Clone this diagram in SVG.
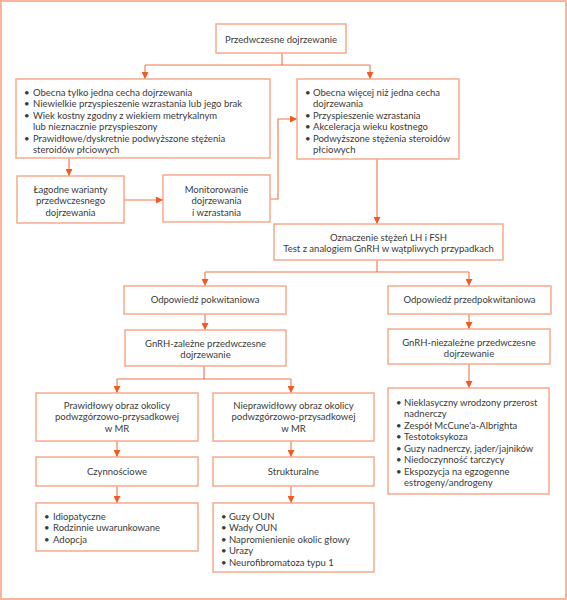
<svg xmlns="http://www.w3.org/2000/svg" width="567" height="600" viewBox="0 0 567 600">
<defs>
<style>
.frame{fill:none;stroke:#f9b49a;stroke-width:2}
.box{fill:#fff;stroke:#f8a98b;stroke-width:1.5}
.c{fill:none;stroke:#f47347;stroke-width:1.1}
.t{font-family:Lato,"Open Sans","Liberation Sans",sans-serif;font-size:9.5px;fill:#3a3a3a}
.m{text-anchor:middle}
</style>
<marker id="ah" viewBox="0 0 10 10" refX="10" refY="5" markerWidth="7" markerHeight="7" markerUnits="userSpaceOnUse" orient="auto">
<path d="M0,0 L10,5 L0,10 z" fill="#f25a24"/>
</marker>
</defs>
<rect x="0" y="0" width="567" height="600" fill="#fff"/>
<rect class="frame" x="1" y="1" width="565" height="598"/>

<g id="connectors">
<path class="c" d="M282,53 V65 M145,65 H370"/>
<path class="c" d="M145,65 V79" marker-end="url(#ah)"/>
<path class="c" d="M370,65 V79" marker-end="url(#ah)"/>
<path class="c" d="M69,158 V176" marker-end="url(#ah)"/>
<path class="c" d="M124,200 H163" marker-end="url(#ah)"/>
<path class="c" d="M270,199 H278 V119 H297" marker-end="url(#ah)"/>
<path class="c" d="M377,159 V224" marker-end="url(#ah)"/>
<path class="c" d="M377,260 V272 M205,272 H469"/>
<path class="c" d="M205,272 V286" marker-end="url(#ah)"/>
<path class="c" d="M469,272 V286" marker-end="url(#ah)"/>
<path class="c" d="M205,314 V330" marker-end="url(#ah)"/>
<path class="c" d="M469,314 V329" marker-end="url(#ah)"/>
<path class="c" d="M204,366 V379 M117,379 H291"/>
<path class="c" d="M117,379 V393" marker-end="url(#ah)"/>
<path class="c" d="M291,379 V393" marker-end="url(#ah)"/>
<path class="c" d="M469,364 V388" marker-end="url(#ah)"/>
<path class="c" d="M117,441 V457" marker-end="url(#ah)"/>
<path class="c" d="M291,441 V457" marker-end="url(#ah)"/>
<path class="c" d="M117,486 V503" marker-end="url(#ah)"/>
<path class="c" d="M291,486 V503" marker-end="url(#ah)"/>
</g>

<g id="n_root">
<rect class="box" x="216" y="24" width="130" height="29"/>
<text class="t m" x="281" y="42.5">Przedwczesne dojrzewanie</text>
</g>

<g id="n_one">
<rect class="box" x="16" y="79" width="254" height="79"/>
<text class="t"><tspan x="24" y="95.5">•</tspan><tspan x="33" y="95.5">Obecna tylko jedna cecha dojrzewania</tspan><tspan x="24" y="107">•</tspan><tspan x="33" y="107">Niewielkie przyspieszenie wzrastania lub jego brak</tspan><tspan x="24" y="118.5">•</tspan><tspan x="33" y="118.5">Wiek kostny zgodny z wiekiem metrykalnym</tspan><tspan x="33" y="130">lub nieznacznie przyspieszony</tspan><tspan x="24" y="141.5">•</tspan><tspan x="33" y="141.5">Prawidłowe/dyskretnie podwyższone stężenia</tspan><tspan x="33" y="153">steroidów płciowych</tspan></text>
</g>

<g id="n_more">
<rect class="box" x="297" y="79" width="162" height="80"/>
<text class="t"><tspan x="305" y="95.5">•</tspan><tspan x="313" y="95.5">Obecna więcej niż jedna cecha</tspan><tspan x="313" y="107">dojrzewania</tspan><tspan x="305" y="118.5">•</tspan><tspan x="313" y="118.5">Przyspieszenie wzrastania</tspan><tspan x="305" y="130">•</tspan><tspan x="313" y="130">Akceleracja wieku kostnego</tspan><tspan x="305" y="141.5">•</tspan><tspan x="313" y="141.5">Podwyższone stężenia steroidów</tspan><tspan x="313" y="153">płciowych</tspan></text>
</g>

<g id="n_mild">
<rect class="box" x="17" y="176" width="107" height="47"/>
<text class="t m"><tspan x="70.5" y="192.5">Łagodne warianty</tspan><tspan x="70.5" y="204">przedwczesnego</tspan><tspan x="70.5" y="215.5">dojrzewania</tspan></text>
</g>

<g id="n_monitor">
<rect class="box" x="163" y="175" width="107" height="47"/>
<text class="t m"><tspan x="216.5" y="192.5">Monitorowanie</tspan><tspan x="216.5" y="204">dojrzewania</tspan><tspan x="216.5" y="215.5">i wzrastania</tspan></text>
</g>

<g id="n_lhfsh">
<rect class="box" x="274" y="224" width="229" height="36"/>
<text class="t m"><tspan x="388.5" y="240.5">Oznaczenie stężeń LH i FSH</tspan><tspan x="388.5" y="252">Test z analogiem GnRH w wątpliwych przypadkach</tspan></text>
</g>

<g id="n_post">
<rect class="box" x="124" y="286" width="162" height="28"/>
<text class="t m" x="205" y="302.5">Odpowiedź pokwitaniowa</text>
</g>

<g id="n_pre">
<rect class="box" x="388" y="286" width="163" height="28"/>
<text class="t m" x="469.5" y="302.5">Odpowiedź przedpokwitaniowa</text>
</g>

<g id="n_gdep">
<rect class="box" x="125" y="330" width="161" height="36"/>
<text class="t m"><tspan x="205.5" y="346.5">GnRH-zależne przedwczesne</tspan><tspan x="205.5" y="358">dojrzewanie</tspan></text>
</g>

<g id="n_gindep">
<rect class="box" x="388" y="329" width="162" height="35"/>
<text class="t m"><tspan x="469" y="345.5">GnRH-niezależne przedwczesne</tspan><tspan x="469" y="357">dojrzewanie</tspan></text>
</g>

<g id="n_normal">
<rect class="box" x="36" y="393" width="162" height="48"/>
<text class="t m"><tspan x="117" y="408.5">Prawidłowy obraz okolicy</tspan><tspan x="117" y="420">podwzgórzowo-przysadkowej</tspan><tspan x="117" y="431.5">w MR</tspan></text>
</g>

<g id="n_abnormal">
<rect class="box" x="213" y="393" width="161" height="48"/>
<text class="t m"><tspan x="293.5" y="408.5">Nieprawidłowy obraz okolicy</tspan><tspan x="293.5" y="420">podwzgórzowo-przysadkowej</tspan><tspan x="293.5" y="431.5">w MR</tspan></text>
</g>

<g id="n_func">
<rect class="box" x="36" y="457" width="162" height="29"/>
<text class="t m" x="117" y="474.5">Czynnościowe</text>
</g>

<g id="n_struct">
<rect class="box" x="213" y="457" width="161" height="29"/>
<text class="t m" x="293.5" y="474.5">Strukturalne</text>
</g>

<g id="n_funclist">
<rect class="box" x="36" y="503" width="162" height="48"/>
<text class="t"><tspan x="44" y="519.5">•</tspan><tspan x="53" y="519.5">Idiopatyczne</tspan><tspan x="44" y="531">•</tspan><tspan x="53" y="531">Rodzinnie uwarunkowane</tspan><tspan x="44" y="542.5">•</tspan><tspan x="53" y="542.5">Adopcja</tspan></text>
</g>

<g id="n_structlist">
<rect class="box" x="213" y="503" width="161" height="69"/>
<text class="t"><tspan x="221" y="519.5">•</tspan><tspan x="229" y="519.5">Guzy OUN</tspan><tspan x="221" y="531">•</tspan><tspan x="229" y="531">Wady OUN</tspan><tspan x="221" y="542.5">•</tspan><tspan x="229" y="542.5">Napromienienie okolic głowy</tspan><tspan x="221" y="554">•</tspan><tspan x="229" y="554">Urazy</tspan><tspan x="221" y="565.5">•</tspan><tspan x="229" y="565.5">Neurofibromatoza typu 1</tspan></text>
</g>

<g id="n_indeplist">
<rect class="box" x="388" y="388" width="161" height="106"/>
<text class="t"><tspan x="396" y="405.5">•</tspan><tspan x="404" y="405.5">Nieklasyczny wrodzony przerost</tspan><tspan x="404" y="417">nadnerczy</tspan><tspan x="396" y="428.5">•</tspan><tspan x="404" y="428.5">Zespół McCune'a-Albrighta</tspan><tspan x="396" y="440">•</tspan><tspan x="404" y="440">Testotoksykoza</tspan><tspan x="396" y="451.5">•</tspan><tspan x="404" y="451.5">Guzy nadnerczy, jąder/jajników</tspan><tspan x="396" y="463">•</tspan><tspan x="404" y="463">Niedoczynność tarczycy</tspan><tspan x="396" y="474.5">•</tspan><tspan x="404" y="474.5">Ekspozycja na egzogenne</tspan><tspan x="404" y="486">estrogeny/androgeny</tspan></text>
</g>
</svg>
